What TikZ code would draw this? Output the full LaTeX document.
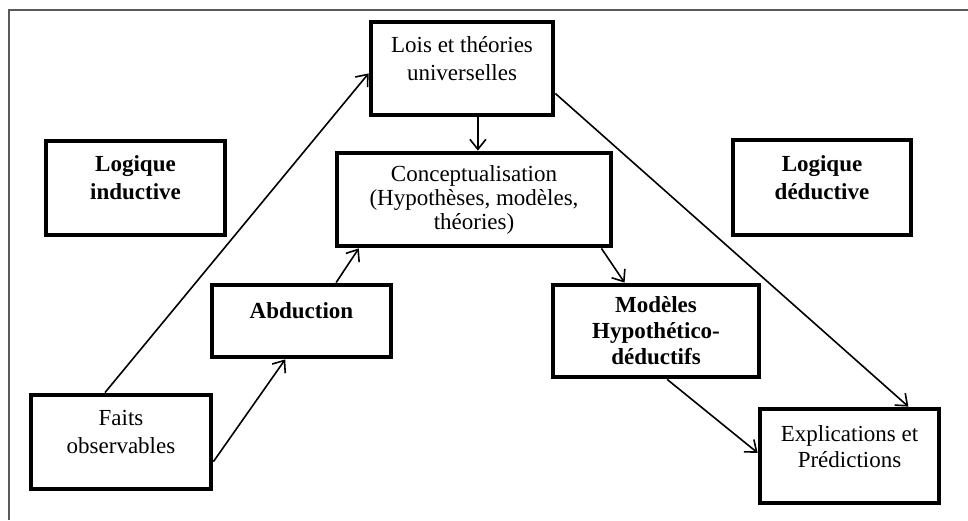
\documentclass[tikz,border=0pt]{standalone}
\usepackage{fontspec}
\setmainfont{Liberation Serif}
\usetikzlibrary{arrows.meta}
\begin{document}
\begin{tikzpicture}[x=0.5pt, y=-0.5pt,
  box/.style={draw, line width=2.4pt, align=center, inner sep=0pt,
    font=\fontsize{11.5}{14}\selectfont},
  bbox/.style={box, font=\fontsize{11.5}{14}\selectfont\bfseries},
  link/.style={draw, line width=0.8pt, -{Straight Barb[length=5pt,width=8pt]}}]
\useasboundingbox (0,0) rectangle (968,520);
\draw[gray!70!black, line width=0.6pt] (9,520) -- (9,10) -- (968,10);

\node[box, minimum width=91pt, minimum height=46.5pt] (lois) at (462,68.5) {Lois et théories\\universelles\\[-4pt]\mbox{}};
\node[box, minimum width=137pt, minimum height=46.5pt, font=\fontsize{11.5}{12}\selectfont] (concept) at (474,199.5) {Conceptualisation\\(Hypothèses, modèles,\\théories)};
\node[bbox, minimum width=89.5pt, minimum height=47pt] (induct) at (135.5,188) {Logique\\inductive\\[-4pt]\mbox{}};
\node[bbox, minimum width=89pt, minimum height=47.5pt] (deduct) at (822,187.5) {Logique\\déductive\\[-4pt]\mbox{}};
\node[bbox, minimum width=89.5pt, minimum height=36pt] (abduct) at (301.5,321) {Abduction\\[-4pt]\mbox{}};
\node[box, minimum width=90pt, minimum height=47pt] (faits) at (121,442) {Faits\\observables\\[-4pt]\mbox{}};
\node[bbox, minimum width=103pt, minimum height=46pt, font=\fontsize{11.5}{13}\selectfont\bfseries] (modeles) at (656,331) {Modèles\\Hypothético-\\déductifs};
\node[box, minimum width=89.5pt, minimum height=47pt, font=\fontsize{11.5}{13}\selectfont] (explic) at (849.5,456) {Explications et\\Prédictions\\[-4pt]\mbox{}};

\path[link] (faits.108) -- (lois.183);
\path[link] (faits.-12) -- (abduct.-113);
\path[link] (abduct.48) -- (concept.-157);
\path[link] (lois.-72) -- (lois.-72 |- concept.north);
\path[link] (concept.-21) -- (modeles.123);
\path[link] (lois.-15) -- (explic.40);
\path[link] (modeles.-77) -- (explic.178);
\end{tikzpicture}
\end{document}
